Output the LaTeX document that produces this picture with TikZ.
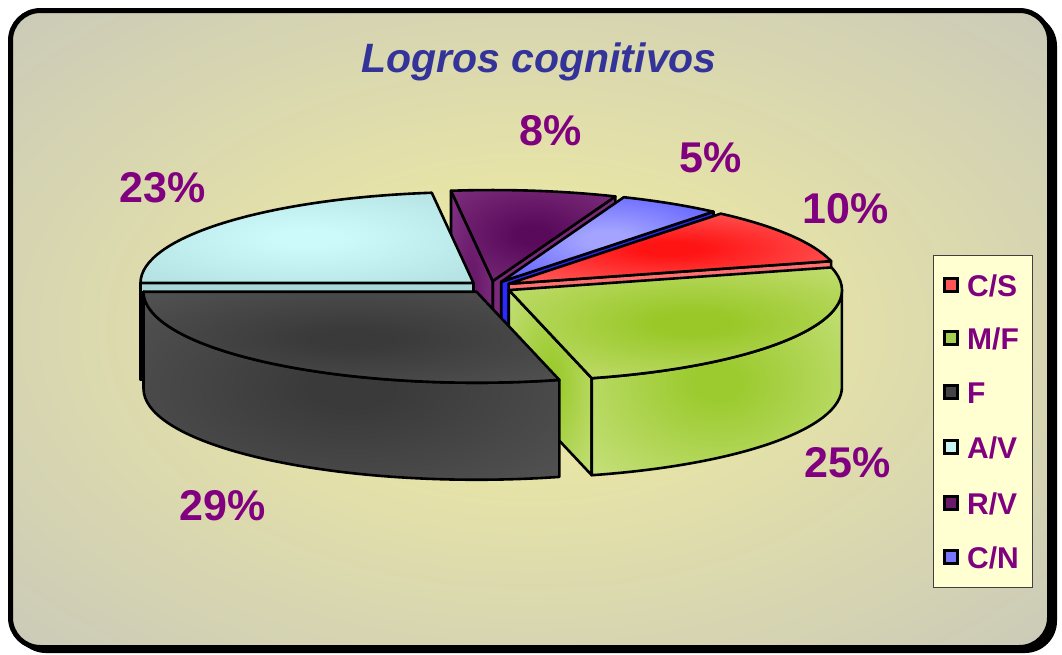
\documentclass[tikz,border=0pt]{standalone}
\usepackage{fontspec}
\setmainfont{Liberation Sans}
\usetikzlibrary{calc}

\definecolor{pct}{HTML}{800080}
\definecolor{ttl}{HTML}{333399}
\definecolor{bgin}{HTML}{E8E5A6}
\definecolor{bgout}{HTML}{C3C3BD}
\definecolor{legfill}{HTML}{FFFFD2}
\colorlet{pieIn}{red}\colorlet{pieOut}{red}
\pgfdeclareradialshading[pieIn,pieOut]{pieshade}{\pgfpoint{0bp}{0bp}}{color(0bp)=(pieIn); color(5bp)=(pieIn); color(50bp)=(pieOut)}
\pgfdeclareradialshading{bgshade}{\pgfpoint{0bp}{0bp}}{color(0bp)=(bgin); color(10bp)=(bgin); color(42bp)=(bgout); color(50bp)=(bgout)}

\def\ra{333}\def\rb{91}\def\hh{97}
\newcommand\pieapex[2]{\coordinate (#1) at ({490+22*cos(#2)},{-287+6.01*sin(#2)});}
\newcommand\setpie[2]{\definecolor{pieIn}{HTML}{#1}\definecolor{pieOut}{HTML}{#2}}
\newcommand\topface[5]{\setpie{#4}{#5}%
  \shadedraw[shading=pieshade, edge] (#1) -- ($(#1)+({\ra*cos(#2)},{\rb*sin(#2)})$) arc[start angle=#2, end angle=#3, x radius=\ra pt, y radius=\rb pt] -- cycle;}
\newcommand\sideface[5]{\setpie{#4}{#5}%
  \shadedraw[shading=pieshade, edge] ($(#1)+({\ra*cos(#2)},{\rb*sin(#2)})$) arc[start angle=#2, end angle=#3, x radius=\ra pt, y radius=\rb pt] -- ++(0,-\hh) arc[start angle=#3, end angle=#2, x radius=\ra pt, y radius=\rb pt] -- cycle;}
\newcommand\cutface[4]{\setpie{#3}{#4}%
  \shadedraw[shading=pieshade, edge] (#1) -- ($(#1)+({\ra*cos(#2)},{\rb*sin(#2)})$) -- ++(0,-\hh) -- ($(#1)+(0,-\hh)$) -- cycle;}

\begin{document}
\begin{tikzpicture}[x=1pt,y=1pt,
  edge/.style={draw=black, line width=2.6pt, line join=round},
  pctlab/.style={text=pct, font=\fontsize{43}{43}\selectfont\bfseries, inner sep=0pt, anchor=base},
  legtext/.style={text=pct, font=\fontsize{30}{30}\selectfont\bfseries, inner sep=0pt, anchor=base west},
  legkey/.style={draw=black, line width=2.6pt, minimum size=13.5pt, inner sep=0pt}]
\useasboundingbox (0,0) rectangle (1062,-654);
% frame
\fill[black, rounded corners=32pt] (14,-14) rectangle (1057,-653);
\shade[shading=bgshade, rounded corners=30pt] (10.5,-10.5) rectangle (1049.5,-647.5);
\draw[black, line width=5pt, rounded corners=30pt] (10.5,-10.5) rectangle (1049.5,-647.5);

% title
\node[font=\fontsize{41}{41}\selectfont\bfseries\itshape, text=ttl, anchor=base, inner sep=0pt] (title) at (539,-72) {Logros cognitivos};

% pie apexes
\pieapex{cs}{32.4}
\pieapex{cn}{59.4}
\pieapex{rv}{82.8}
\pieapex{av}{138.6}
\pieapex{f}{232.2}
\pieapex{mf}{329.4}

% R/V
\cutface{rv}{68.4}{7A2A7A}{7A2A7A}
\cutface{rv}{97.2}{6A1A6A}{8E3E8E}
\topface{rv}{68.4}{97.2}{5A0A5A}{8E408E}
% C/N
\cutface{cn}{50.4}{2A2AFF}{2A2AFF}
\topface{cn}{50.4}{68.4}{A4A4FF}{3434FF}
% C/S
\cutface{cs}{14.4}{FF7070}{FF7070}
\topface{cs}{14.4}{50.4}{FF1414}{FF8C8C}
% A/V
\cutface{av}{180}{A8D8D8}{A8D8D8}
\topface{av}{97.2}{180}{CCFAFA}{A6D4D4}
% M/F
\cutface{mf}{-75.6}{9CCB30}{D8E89C}
\sideface{mf}{-75.6}{0}{9CCB30}{DAEAA0}
\topface{mf}{-75.6}{14.4}{99C828}{DDEBA2}
% F
\sideface{f}{180}{284.4}{3A3A3A}{5E5E5E}
\topface{f}{180}{284.4}{3A3A3A}{5E5E5E}

% percentage labels
\node[pctlab] (p23) at (163,-202) {23\%};
\node[pctlab] (p8) at (551,-145) {8\%};
\node[pctlab] (p5) at (711,-172) {5\%};
\node[pctlab] (p10) at (846,-223) {10\%};
\node[pctlab] (p25) at (848,-477) {25\%};
\node[pctlab] (p29) at (223,-520) {29\%};

% legend
\node[draw=black!75, line width=1.2pt, fill=legfill, minimum width=99pt, minimum height=332pt, inner sep=0pt, anchor=north west] (legend) at (933,-255) {};
\node[legkey, fill={rgb,255:red,255;green,85;blue,85}] (k1) at (951,-285) {};
\node[legkey, fill={rgb,255:red,168;green,208;blue,80}] (k2) at (951,-338) {};
\node[legkey, fill={rgb,255:red,68;green,68;blue,68}] (k3) at (951,-392) {};
\node[legkey, fill={rgb,255:red,200;green,244;blue,244}] (k4) at (951,-447) {};
\node[legkey, fill={rgb,255:red,107;green,26;blue,107}] (k5) at (951,-503) {};
\node[legkey, fill={rgb,255:red,119;green,119;blue,255}] (k6) at (951,-557) {};
\node[legtext] (t1) at (967,-296) {C/S};
\node[legtext] (t2) at (967,-349) {M/F};
\node[legtext] (t3) at (967,-403) {F};
\node[legtext] (t4) at (967,-458) {A/V};
\node[legtext] (t5) at (967,-514) {R/V};
\node[legtext] (t6) at (967,-568) {C/N};
\end{tikzpicture}
\end{document}
